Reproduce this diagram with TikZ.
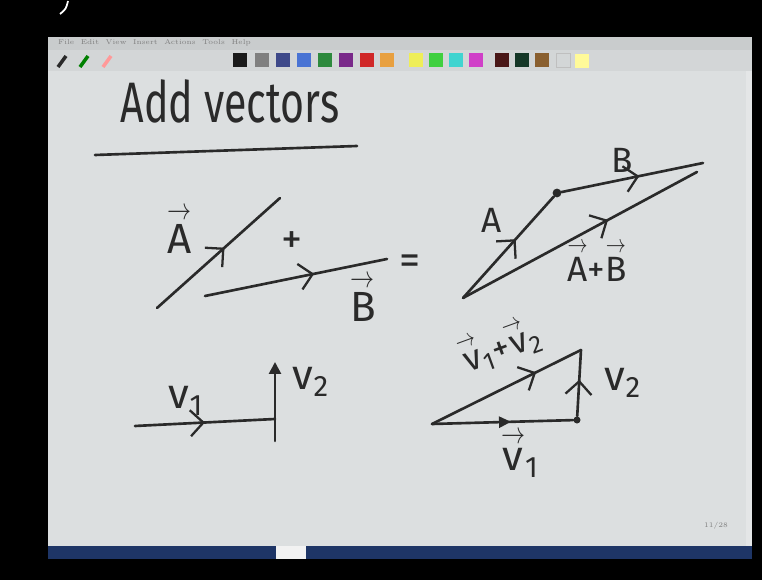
\documentclass[tikz,border=0pt]{standalone}
\usepackage{amsmath}
\usepackage{graphicx}
\usepackage{fontspec}
\newfontfamily\hand{Fira Sans}
\usepackage{tikz}
\usetikzlibrary{arrows.meta,decorations.markings}

\definecolor{ink}{HTML}{2A2A2A}
\definecolor{paper}{HTML}{DCDFE0}
\definecolor{menubg}{HTML}{C9CCCD}
\definecolor{toolbg}{HTML}{D3D6D7}
\definecolor{barblue}{HTML}{1E3566}
\definecolor{scrollbg}{HTML}{E4E6E7}

% letter with a small arrow over it, and a subscript
\newcommand\ov[1]{\shortstack{\raisebox{0pt}[0.4em][0pt]{\scalebox{0.55}[0.7]{$\rightarrow$}}\\#1}}
\newcommand\sub[1]{$_{\text{#1}}$}

\begin{document}
\begin{tikzpicture}[x=0.02cm,y=-0.02cm,
  >={Straight Barb[length=2.6mm,line width=1.3pt]},
  pen/.style={draw=ink,line width=1.5pt,line cap=round,line join=round},
  midarr/.style={postaction={decorate,decoration={markings,
      mark=at position #1 with {\arrow{>}}}}},
  midtri/.style={postaction={decorate,decoration={markings,
      mark=at position #1 with {\arrow{Triangle[length=2.4mm,width=2.2mm]}}}}},
  lbl/.style={text=ink,inner sep=0pt,font=\hand\fontsize{24}{28}\selectfont},
  small/.style={lbl,font=\hand\fontsize{20}{24}\selectfont},
  title/.style={lbl,font=\hand\fontsize{26}{30}\selectfont},
  dot/.style={circle,fill=ink,inner sep=0pt,minimum size=5pt},
  swatch/.style={minimum width=0.28cm,minimum height=0.28cm,inner sep=0pt}]

  \useasboundingbox (0,0) rectangle (762,580);
  % screen frame
  \fill[black] (0,0) rectangle (762,580);
  \draw[white,line width=1pt] (60,14) .. controls (66,9) .. (68,1);
  \fill[menubg] (48,37) rectangle (752,50);
  \fill[toolbg] (48,50) rectangle (752,71);
  \fill[paper] (48,71) rectangle (746,546);
  \fill[scrollbg] (746,71) rectangle (752,546);
  \fill[barblue] (48,546) rectangle (752,559);
  \fill[white!90!gray] (276,546) rectangle (306,559);
  \node[font=\fontsize{4}{4}\selectfont,text=gray,anchor=west] (menu) at (52,43)
    {File\ \ Edit\ \ View\ \ Insert\ \ Actions\ \ Tools\ \ Help};
  \node[font=\fontsize{4}{4}\selectfont,text=gray] (pgno) at (716,526) {11/28};

  % pens
  \draw[ink,line width=2pt] (58,67) -- (66,56);
  \draw[green!50!black,line width=2pt] (80,67) -- (88,56);
  \draw[red!40!white,line width=2pt] (103,67) -- (111,56);

  % colour swatches
  \foreach \px/\col in {240/1A1A1A,262/808080,283/3F4A8A,304/4A74D4,325/2E8A3E,
      346/7A2A8A,367/D02828,387/E8A040,416/EEEE58,436/40D040,456/40D4D0,
      476/D040C8,502/4A1818,522/163828,542/8A6030} {
    \definecolor{sw}{HTML}{\col}
    \node[swatch,fill=sw] (sw\px) at (\px,60) {};
  }
  \node[swatch,draw=gray!50,fill=toolbg] (swwhite) at (563,60) {};
  \node[swatch,fill=yellow!40] (swhl) at (582,61) {};

  % title
  \node[title] (ttl) at (230,101) {\scalebox{0.9}[1.25]{Add vectors}};
  \coordinate (u1) at (95,155);
  \coordinate (u2) at (357,146);
  \draw[pen] (u1) -- (u2);

  % A + B =
  \coordinate (a0) at (157,308);
  \coordinate (a1) at (280,198);
  \coordinate (b0) at (205,296);
  \coordinate (b1) at (387,259);
  \draw[pen,midarr=0.55] (a0) -- (a1);
  \draw[pen,midarr=0.6] (b0) -- (b1);
  \node[lbl] (labA) at (180,228) {\ov{A}};
  \node[lbl] (plus) at (292,243) {+};
  \node[lbl] (labB) at (363,296) {\ov{B}};
  \node[lbl] (eq) at (410,265) {=};

  % parallelogram sum
  \coordinate (p0) at (463,298);
  \node[dot] (p1) at (557,193) {};
  \coordinate (p2) at (703,163);
  \coordinate (p3) at (697,172);
  \draw[pen,midarr=0.58] (p0) -- (p1);
  \draw[pen,midarr=0.55] (p1) -- (p2);
  \draw[pen,midarr=0.62] (p0) -- (p3);
  \node[small] (lA) at (492,220) {A};
  \node[small] (lB) at (622,160) {B};
  \node[small] (lAB) at (597,260) {\ov{A}+\ov{B}};

  % v1, v2 tail to tail
  \coordinate (v0) at (135,426);
  \coordinate (v1) at (275,419);
  \coordinate (w0) at (275,441);
  \coordinate (w1) at (275,362);
  \draw[pen,midarr=0.5] (v0) -- (v1);
  \draw[pen,-{Triangle[length=2.4mm,width=2.4mm]}] (w0) -- (w1);
  \node[lbl] (lv1) at (186,401) {v\sub{1}};
  \node[lbl] (lv2) at (311,382) {v\sub{2}};

  % triangle
  \coordinate (t0) at (432,424);
  \node[dot,minimum size=4pt] (t1) at (577,420) {};
  \coordinate (t2) at (581,350);
  \draw[pen,midtri=0.56] (t0) -- (t1);
  \draw[pen,midarr=0.55] (t1) -- (t2);
  \draw[pen,midarr=0.7] (t0) -- (t2);
  \node[small,rotate=20] (lsum) at (500,344) {\ov{v}\sub{1}+\ov{v}\sub{2}};
  \node[lbl] (lw2) at (623,383) {v\sub{2}};
  \node[lbl] (lw1) at (520,452) {\ov{v}\sub{1}};
\end{tikzpicture}
\end{document}
